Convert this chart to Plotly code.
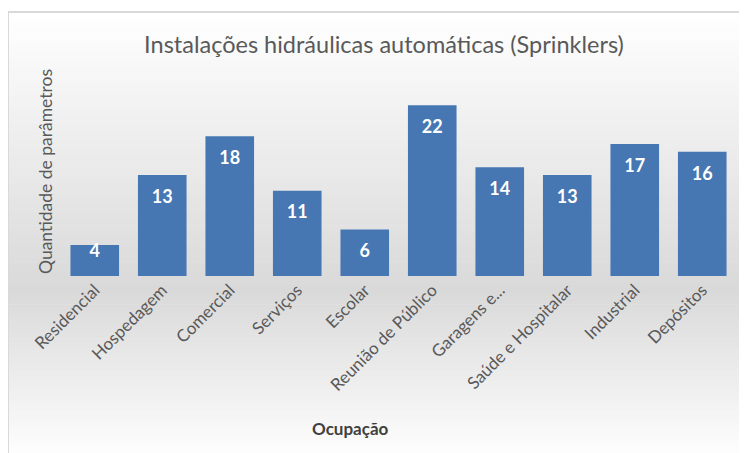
import numpy as np
import plotly.graph_objects as go

# %%
ocupacoes = [
    "Residencial", "Hospedagem", "Comercial", "Serviços", "Escolar",
    "Reunião de Público", "Garagens e...", "Saúde e Hospitalar", "Industrial", "Depósitos",
]
parametros = [4, 13, 18, 11, 6, 22, 14, 13, 17, 16]

# a página tem margem de 8px no body; trabalho em coordenadas da tela
OFF = 8
W, H = 747 - OFF, 453 - OFF
PL, PR, PT, PB = 61, 736, 82, 276  # área de plotagem na tela
L, R, T, B = PL - OFF, W - (PR - OFF), PT - OFF, H - (PB - OFF)
pw, ph = W - L - R, H - T - B


def px_x(x):
    return (x - PL) / pw


def px_y(y):
    return (PB - y) / ph


# %%
fig = go.Figure()
fig.add_bar(
    x=ocupacoes,
    y=parametros,
    marker=dict(color="#4677b3", line=dict(width=0)),
    width=0.72,
    hoverinfo="x+y",
)

# rotulos de dados (dentro da barra, perto do topo)
vals = np.array(parametros, dtype=float)
label_y = np.maximum(vals - 3.0, 3.0)
fig.add_scatter(
    x=ocupacoes,
    y=label_y,
    mode="text",
    text=[str(v) for v in parametros],
    textfont=dict(family="Lato", size=18, color="white", weight="bold"),
    hoverinfo="skip",
    showlegend=False,
)

# fundo em degradê (branco -> cinza -> branco)
shapes = []
top, mid, bot = 12, 290, 460
steps = 60
for a, b, c0, c1 in [(top, mid, 255, 217), (mid, bot, 217, 255)]:
    edges = np.linspace(a, b, steps + 1)
    for i in range(steps):
        f = (i + 0.5) / steps
        g = int(round(c0 + (c1 - c0) * f))
        shapes.append(dict(
            type="rect", xref="paper", yref="paper", layer="below",
            x0=px_x(8), x1=px_x(770), y0=px_y(edges[i]), y1=px_y(edges[i + 1] + 0.6),
            fillcolor=f"rgb({g},{g},{g})", line=dict(width=0),
        ))
# borda do gráfico
shapes.append(dict(
    type="rect", xref="paper", yref="paper", layer="above",
    x0=px_x(8), x1=px_x(780), y0=px_y(12), y1=px_y(490),
    line=dict(color="#d9d9d9", width=2), fillcolor="rgba(0,0,0,0)",
))

fig.update_layout(
    width=W,
    height=H,
    margin=dict(l=L, r=R, t=T, b=B, autoexpand=False),
    paper_bgcolor="white",
    plot_bgcolor="rgba(0,0,0,0)",
    showlegend=False,
    font=dict(family="Lato", color="#595959"),
    title=dict(
        text="Instalações hidráulicas automáticas (Sprinklers)",
        x=(384 - OFF) / W, xanchor="center", y=1 - (45 - OFF) / H, yanchor="middle",
        font=dict(size=23.5, color="#595959"),
    ),
    shapes=shapes,
    bargap=0.28,
    annotations=[
        dict(
            text="Quantidade de parâmetros", textangle=-90,
            xref="paper", yref="paper", x=px_x(45), y=px_y(172),
            xanchor="center", yanchor="middle",
            showarrow=False, font=dict(size=17.5, color="#595959"),
        ),
        dict(
            text="<b>Ocupação</b>",
            xref="paper", yref="paper", x=px_x(350), y=px_y(428),
            xanchor="center", yanchor="middle",
            showarrow=False, font=dict(size=17, color="#404040"),
        ),
    ],
)
fig.update_xaxes(
    tickangle=-45, automargin=False,
    tickfont=dict(size=17, color="#595959"),
    showgrid=False, showline=False, ticks="",
)
fig.update_yaxes(
    range=[0, 25], showticklabels=False, showgrid=False, automargin=False,
    zeroline=False, showline=False, ticks="",
)

fig.write_html("out.html")
